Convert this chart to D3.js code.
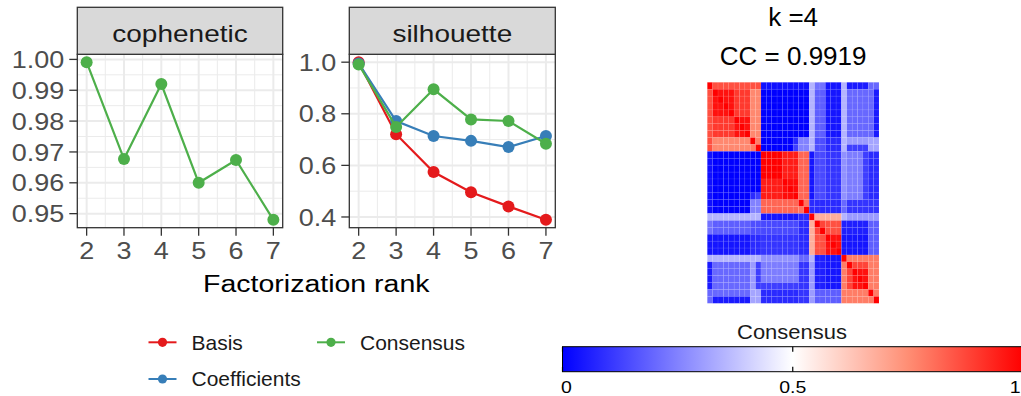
<!DOCTYPE html>
<html>
<head>
<meta charset="utf-8">
<script src="https://cdn.jsdelivr.net/npm/d3@7"></script>
<style>
  html, body { margin: 0; padding: 0; background: #fff; }
  svg { display: block; font-family: "Liberation Sans", Arial, Helvetica, sans-serif; }
</style>
</head>
<body>
<svg id="chart" width="1021" height="396"></svg>
<script>
// ---- quality measures per factorization rank ----
const ranks = [2, 3, 4, 5, 6, 7];
const cophenetic = [0.9991, 0.9677, 0.9920, 0.9600, 0.9674, 0.9480];
const silhouetteBasis = [1.000, 0.721, 0.574, 0.496, 0.441, 0.389];
const silhouetteCoefficients = [0.995, 0.772, 0.714, 0.695, 0.671, 0.714];
const silhouetteConsensus = [0.991, 0.749, 0.895, 0.778, 0.772, 0.684];
const seriesNames = ["Basis", "Coefficients", "Consensus"];
const seriesColors = ["#E41A1C", "#377EB8", "#4DAF4A"];
const copheneticTicks = [0.95, 0.96, 0.97, 0.98, 0.99, 1.00];
const silhouetteTicks = [0.4, 0.6, 0.8, 1.0];
const facetLabels = ["cophenetic", "silhouette"];
const xTitle = "Factorization rank";

// ---- consensus matrix (k = 4), values in percent, rows/cols in dendrogram order ----
const consensusTitle = ["k =4", "CC = 0.9919"];
const colorbarTitle = "Consensus";
const colorbarTicks = [0, 0.5, 1];
const paletteStops = [0, 0.25, 0.5, 0.75, 1];
const paletteColors = ["#0000FF", "#8282FF", "#FFFFFF", "#FF8E74", "#FF0000"];
const consensus = [
  [100,86,86,86,86,86,86,86,86,86,3,3,3,3,3,3,3,3,3,35,22,22,4,4,4,35,5,5,5,5,20,20],
  [86,100,97,97,97,90,90,90,76,76,0,0,0,0,0,0,0,0,0,35,18,18,4,4,4,35,20,20,20,20,20,5],
  [86,97,100,97,97,90,90,90,76,76,0,0,0,0,0,0,0,0,0,35,18,18,4,4,4,35,20,20,20,20,20,5],
  [86,97,97,100,97,90,90,90,76,76,0,0,0,0,0,0,0,0,0,35,18,18,4,4,4,35,20,20,20,20,20,5],
  [86,97,97,97,100,90,90,90,76,76,0,0,0,0,0,0,0,0,0,35,18,18,4,4,4,35,20,20,20,20,20,5],
  [86,90,90,90,90,100,97,97,76,76,0,0,0,0,0,0,0,0,0,35,18,18,4,4,4,35,20,20,20,20,20,5],
  [86,90,90,90,90,97,100,97,76,76,0,0,0,0,0,0,0,0,0,35,18,18,4,4,4,35,20,20,20,20,20,5],
  [86,90,90,90,90,97,97,100,76,76,0,0,0,0,0,0,0,0,0,35,18,18,4,4,4,35,20,20,20,20,20,5],
  [86,76,76,76,76,76,76,76,100,78,0,0,0,0,0,0,8,25,25,35,15,15,8,8,8,35,30,30,30,30,32,32],
  [86,76,76,76,76,76,76,76,78,100,0,0,0,0,0,0,12,25,25,35,15,15,8,8,8,35,12,12,12,12,32,32],
  [3,0,0,0,0,0,0,0,0,0,100,100,100,100,95,95,95,82,82,4,14,14,10,10,10,28,24,24,24,12,8,8],
  [3,0,0,0,0,0,0,0,0,0,100,100,100,100,95,95,95,82,82,4,14,14,10,10,10,28,24,24,24,12,8,8],
  [3,0,0,0,0,0,0,0,0,0,100,100,100,100,95,95,95,82,82,4,14,14,10,10,10,28,24,24,24,12,8,8],
  [3,0,0,0,0,0,0,0,0,0,100,100,100,100,95,95,95,82,82,4,14,14,10,10,10,28,24,24,24,12,8,8],
  [3,0,0,0,0,0,0,0,0,0,95,95,95,95,100,98,98,82,82,4,14,14,10,10,10,28,24,24,24,12,8,8],
  [3,0,0,0,0,0,0,0,0,0,95,95,95,95,98,100,98,82,82,4,14,14,10,10,10,28,24,24,24,12,8,8],
  [3,0,0,0,0,0,0,0,8,12,95,95,95,95,98,98,100,82,82,4,14,14,10,10,10,28,24,24,24,12,8,8],
  [3,0,0,0,0,0,0,0,25,25,82,82,82,82,82,82,82,100,80,8,8,8,8,8,8,20,10,10,10,10,10,10],
  [3,0,0,0,0,0,0,0,25,25,82,82,82,82,82,82,82,80,100,8,8,8,8,8,8,20,10,10,10,10,10,10],
  [35,35,35,35,35,35,35,35,35,35,4,4,4,4,4,4,4,8,8,100,68,68,68,68,68,35,30,30,30,30,30,30],
  [22,18,18,18,18,18,18,18,15,15,14,14,14,14,14,14,14,8,8,68,100,88,86,86,86,6,6,6,6,6,18,18],
  [22,18,18,18,18,18,18,18,15,15,14,14,14,14,14,14,14,8,8,68,88,100,86,86,86,6,6,6,6,6,18,18],
  [4,4,4,4,4,4,4,4,8,8,10,10,10,10,10,10,10,8,8,68,86,86,100,97,97,4,4,4,4,4,18,18],
  [4,4,4,4,4,4,4,4,8,8,10,10,10,10,10,10,10,8,8,68,86,86,97,100,97,4,4,4,4,4,18,18],
  [4,4,4,4,4,4,4,4,8,8,10,10,10,10,10,10,10,8,8,68,86,86,97,97,100,4,4,4,4,4,18,18],
  [35,35,35,35,35,35,35,35,35,35,28,28,28,28,28,28,28,20,20,35,6,6,4,4,4,100,78,78,78,78,78,78],
  [5,20,20,20,20,20,20,20,30,12,24,24,24,24,24,24,24,10,10,30,6,6,4,4,4,78,100,88,88,88,78,78],
  [5,20,20,20,20,20,20,20,30,12,24,24,24,24,24,24,24,10,10,30,6,6,4,4,4,78,88,100,97,97,78,78],
  [5,20,20,20,20,20,20,20,30,12,24,24,24,24,24,24,24,10,10,30,6,6,4,4,4,78,88,97,100,97,78,78],
  [5,20,20,20,20,20,20,20,30,12,12,12,12,12,12,12,12,10,10,30,6,6,4,4,4,78,88,97,97,100,78,78],
  [20,20,20,20,20,20,20,20,32,32,8,8,8,8,8,8,8,10,10,30,18,18,18,18,18,78,78,78,78,78,100,78],
  [20,5,5,5,5,5,5,5,32,32,8,8,8,8,8,8,8,10,10,30,18,18,18,18,18,78,78,78,78,78,78,100]
];

const svg = d3.select("#chart");

// text helper: allows a slight vertical compression of glyphs
function label(parent, x, y, str, opt) {
  const o = Object.assign({ size: 20, anchor: "start", fill: "#000", sy: 1 }, opt);
  return parent.append("text")
    .attr("transform", `translate(${x},${y}) scale(1,${o.sy})`)
    .attr("text-anchor", o.anchor)
    .attr("font-size", o.size)
    .attr("fill", o.fill)
    .text(str);
}

// expand a data extent by 5% on each side (ggplot default)
function expanded(values) {
  const [lo, hi] = d3.extent(values);
  const pad = (hi - lo) * 0.05;
  return [lo - pad, hi + pad];
}

// midpoints between consecutive major breaks, extended one step on each side
function minorBreaks(major) {
  const step = major[1] - major[0];
  const ext = [major[0] - step, ...major, major[major.length - 1] + step];
  const out = [];
  for (let i = 0; i < ext.length - 1; i++) out.push((ext[i] + ext[i + 1]) / 2);
  return out;
}

const TICK_SY = 0.88;
const panelTop = 54.3, panelBottom = 227.7, stripTop = 7.3;

function drawPanel(cfg) {
  const g = svg.append("g");
  const x = d3.scaleLinear()
    .domain([d3.min(ranks) - 0.25, d3.max(ranks) + 0.25])
    .range([cfg.x0, cfg.x1]);
  const allVals = cfg.series.flatMap(s => s.values);
  const y = d3.scaleLinear().domain(expanded(allVals)).range([panelBottom, panelTop]);
  const [dLo, dHi] = y.domain();

  // background
  g.append("rect").attr("x", cfg.x0).attr("y", panelTop)
    .attr("width", cfg.x1 - cfg.x0).attr("height", panelBottom - panelTop)
    .attr("fill", "#fff");

  // minor grid
  const xMajor = ranks;
  const xMinor = minorBreaks(xMajor).filter(v => v > x.domain()[0] && v < x.domain()[1]);
  const yMinor = minorBreaks(cfg.ticks).filter(v => v > dLo && v < dHi);
  g.selectAll(".gxm").data(xMinor).join("line")
    .attr("x1", d => x(d)).attr("x2", d => x(d))
    .attr("y1", panelTop).attr("y2", panelBottom)
    .attr("stroke", "#EBEBEB").attr("stroke-width", 1);
  g.selectAll(".gym").data(yMinor).join("line")
    .attr("x1", cfg.x0).attr("x2", cfg.x1)
    .attr("y1", d => y(d)).attr("y2", d => y(d))
    .attr("stroke", "#EBEBEB").attr("stroke-width", 1);
  // major grid
  g.selectAll(".gx").data(xMajor).join("line")
    .attr("x1", d => x(d)).attr("x2", d => x(d))
    .attr("y1", panelTop).attr("y2", panelBottom)
    .attr("stroke", "#EBEBEB").attr("stroke-width", 2);
  g.selectAll(".gy").data(cfg.ticks).join("line")
    .attr("x1", cfg.x0).attr("x2", cfg.x1)
    .attr("y1", d => y(d)).attr("y2", d => y(d))
    .attr("stroke", "#EBEBEB").attr("stroke-width", 2);

  // series
  const line = d3.line().x((d, i) => x(ranks[i])).y(d => y(d));
  cfg.series.forEach(s => {
    g.append("path").datum(s.values).attr("d", line)
      .attr("fill", "none").attr("stroke", s.color).attr("stroke-width", 2.2);
    g.selectAll(null).data(s.values).join("circle")
      .attr("cx", (d, i) => x(ranks[i])).attr("cy", d => y(d))
      .attr("r", 6).attr("fill", s.color);
  });

  // panel border
  g.append("rect").attr("x", cfg.x0).attr("y", panelTop)
    .attr("width", cfg.x1 - cfg.x0).attr("height", panelBottom - panelTop)
    .attr("fill", "none").attr("stroke", "#333").attr("stroke-width", 1.3);

  // strip
  g.append("rect").attr("x", cfg.x0).attr("y", stripTop)
    .attr("width", cfg.x1 - cfg.x0).attr("height", panelTop - stripTop)
    .attr("fill", "#D9D9D9").attr("stroke", "#333").attr("stroke-width", 1.3);
  label(g, (cfg.x0 + cfg.x1) / 2, 41.5, cfg.strip,
    { size: 28, anchor: "middle", fill: "#1A1A1A", sy: TICK_SY });

  // y axis ticks + labels
  const fmt = d3.format(cfg.fmt);
  cfg.ticks.forEach(t => {
    g.append("line").attr("x1", cfg.x0 - 8).attr("x2", cfg.x0)
      .attr("y1", y(t)).attr("y2", y(t)).attr("stroke", "#333").attr("stroke-width", 1.3);
    label(g, cfg.x0 - 13, y(t) + 0.36 * 27 * TICK_SY, fmt(t),
      { size: 27, anchor: "end", fill: "#4D4D4D", sy: TICK_SY });
  });
  // x axis ticks + labels
  ranks.forEach(r => {
    g.append("line").attr("x1", x(r)).attr("x2", x(r))
      .attr("y1", panelBottom).attr("y2", panelBottom + 8)
      .attr("stroke", "#333").attr("stroke-width", 1.3);
    label(g, x(r), 259, String(r),
      { size: 27, anchor: "middle", fill: "#4D4D4D", sy: TICK_SY });
  });
}

drawPanel({
  x0: 77.3, x1: 282.7, strip: facetLabels[0], ticks: copheneticTicks, fmt: ".2f",
  series: [{ values: cophenetic, color: seriesColors[2] }]
});
drawPanel({
  x0: 349.3, x1: 555.3, strip: facetLabels[1], ticks: silhouetteTicks, fmt: ".1f",
  series: [
    { values: silhouetteBasis, color: seriesColors[0] },
    { values: silhouetteCoefficients, color: seriesColors[1] },
    { values: silhouetteConsensus, color: seriesColors[2] }
  ]
});

// x axis title shared by the facets
label(svg, 316.3, 291.5, xTitle, { size: 28.5, anchor: "middle", fill: "#000", sy: 0.86 });

// legend (two columns, filled by row)
const legendPos = [
  { kx: 162.5, ky: 342.3 },   // Basis
  { kx: 162.5, ky: 379 },     // Coefficients
  { kx: 331, ky: 342.3 }      // Consensus
];
seriesNames.forEach((name, i) => {
  const p = legendPos[i];
  const lg = svg.append("g");
  lg.append("line").attr("x1", p.kx - 14).attr("x2", p.kx + 14)
    .attr("y1", p.ky).attr("y2", p.ky)
    .attr("stroke", seriesColors[i]).attr("stroke-width", 2);
  lg.append("circle").attr("cx", p.kx).attr("cy", p.ky).attr("r", 4.6).attr("fill", seriesColors[i]);
  label(lg, p.kx + 29, p.ky + 7.2, name, { size: 21, fill: "#1A1A1A", sy: 0.94 });
});

// ---- consensus heatmap ----
const hm = { x0: 707.3, x1: 879, y0: 82.3, y1: 303.3 };
const n = consensus.length;
const col = d3.scaleBand().domain(d3.range(n)).range([hm.x0, hm.x1]);
const row = d3.scaleBand().domain(d3.range(n)).range([hm.y0, hm.y1]);
const color = d3.scaleLinear().domain(paletteStops).range(paletteColors);

const cells = [];
consensus.forEach((r, i) => r.forEach((v, j) => cells.push({ i, j, v: v / 100 })));
svg.append("g").selectAll("rect").data(cells).join("rect")
  .attr("x", d => col(d.j)).attr("y", d => row(d.i))
  .attr("width", col.bandwidth()).attr("height", row.bandwidth())
  .attr("fill", d => color(d.v))
  .attr("stroke", "rgba(255,255,255,0.1)").attr("stroke-width", 0.6);

label(svg, (hm.x0 + hm.x1) / 2, 26, consensusTitle[0], { size: 26, anchor: "middle", fill: "#000" });
label(svg, (hm.x0 + hm.x1) / 2, 65, consensusTitle[1], { size: 26, anchor: "middle", fill: "#000" });

// ---- colour bar ----
const cb = { x0: 562.5, x1: 1023, y0: 346.7, y1: 371.7 };
const cbx = d3.scaleLinear().domain([0, 1]).range([cb.x0, cb.x1]);
const grad = svg.append("defs").append("linearGradient").attr("id", "cbGrad")
  .attr("x1", "0%").attr("x2", "100%").attr("y1", "0%").attr("y2", "0%");
d3.range(0, 1.0001, 0.05).forEach(t => {
  grad.append("stop").attr("offset", `${t * 100}%`).attr("stop-color", color(t));
});
svg.append("rect").attr("x", cb.x0).attr("y", cb.y0)
  .attr("width", cb.x1 - cb.x0).attr("height", cb.y1 - cb.y0)
  .attr("fill", "url(#cbGrad)").attr("stroke", "#000").attr("stroke-width", 1);
colorbarTicks.forEach(t => {
  svg.append("line").attr("x1", cbx(t)).attr("x2", cbx(t))
    .attr("y1", cb.y0).attr("y2", cb.y0 + 5).attr("stroke", "#000").attr("stroke-width", 1.2);
  svg.append("line").attr("x1", cbx(t)).attr("x2", cbx(t))
    .attr("y1", cb.y1 - 5).attr("y2", cb.y1).attr("stroke", "#000").attr("stroke-width", 1.2);
  const lx = t === 0 ? cbx(t) + 4 : (t === 1 ? 1020.5 : cbx(t));
  const anchor = t === 1 ? "end" : "middle";
  label(svg, lx, 393, String(t), { size: 19.5, anchor, fill: "#000", sy: 0.86 });
});
label(svg, 792, 339, colorbarTitle, { size: 22, anchor: "middle", fill: "#1A1A1A", sy: 0.9 });
</script>
</body>
</html>
